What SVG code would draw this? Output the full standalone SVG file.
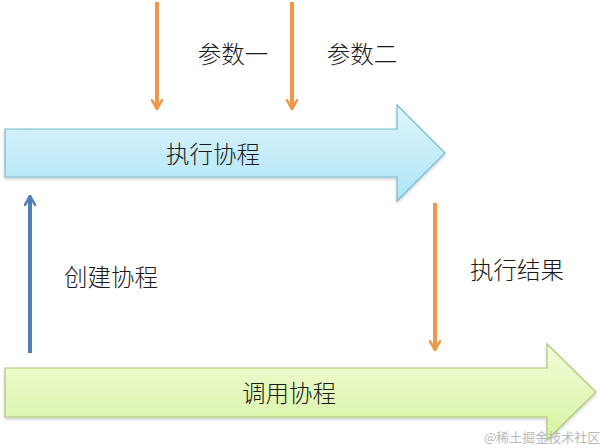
<svg xmlns="http://www.w3.org/2000/svg" width="600" height="448" viewBox="0 0 600 448">
<defs>
<linearGradient id="gBlue" x1="0" y1="0" x2="0" y2="1">
<stop offset="0" stop-color="#dff5fc"/>
<stop offset="1" stop-color="#aee5f6"/>
</linearGradient>
<linearGradient id="gGreen" x1="0" y1="0" x2="0" y2="1">
<stop offset="0" stop-color="#f2fcd8"/>
<stop offset="1" stop-color="#d7f3a2"/>
</linearGradient>
<marker id="hOrange" viewBox="0 0 10 10" refX="8" refY="5" markerWidth="3.2" markerHeight="3.2" orient="auto" markerUnits="strokeWidth">
<path d="M1,1 L8,5 L1,9" fill="none" stroke="#f0964a" stroke-width="2" stroke-linecap="round" stroke-linejoin="round"/>
</marker>
<marker id="hBlue" viewBox="0 0 10 10" refX="8" refY="5" markerWidth="3.2" markerHeight="3.2" orient="auto" markerUnits="strokeWidth">
<path d="M1,1 L8,5 L1,9" fill="none" stroke="#4f7fbb" stroke-width="2" stroke-linecap="round" stroke-linejoin="round"/>
</marker>
<filter id="sh" x="-5%" y="-10%" width="110%" height="130%">
<feDropShadow dx="0" dy="2" stdDeviation="1.5" flood-color="#000" flood-opacity="0.18"/>
</filter>
</defs>
<style>
.t{font-family:"Noto Sans CJK SC","Noto Sans CJK JP",sans-serif;font-size:23.5px;font-weight:300;fill:#1a1a1a;text-anchor:middle;dominant-baseline:central}
.o{stroke:#f0964a;stroke-width:4;fill:none;marker-end:url(#hOrange)}
.b{stroke:#4f7fbb;stroke-width:4;fill:none;marker-end:url(#hBlue)}
.wm{font-family:"Noto Sans CJK SC",sans-serif;font-size:13px;fill:#b8b8b8}
</style>
<rect width="600" height="448" fill="#ffffff"/>
<g id="exec">
<path d="M5,129 L397,129 L397,105 L445,153 L397,201 L397,177 L5,177 Z" fill="url(#gBlue)" stroke="#74b9cc" stroke-width="1.2" filter="url(#sh)"/>
<text class="t" x="213" y="153">执行协程</text>
</g>
<g id="call">
<path d="M5,368 L547,368 L547,344 L596,392 L547,440 L547,417 L5,417 Z" fill="url(#gGreen)" stroke="#a9c873" stroke-width="1.2" filter="url(#sh)"/>
<text class="t" x="289" y="392">调用协程</text>
</g>
<g id="connectors">
<line class="o" x1="157" y1="2" x2="157" y2="109"/>
<line class="o" x1="292" y1="2" x2="292" y2="109"/>
<line class="b" x1="30" y1="353" x2="30" y2="196"/>
<line class="o" x1="435" y1="203" x2="435" y2="350"/>
</g>
<g id="labels">
<text class="t" x="233" y="53">参数一</text>
<text class="t" x="362" y="53">参数二</text>
<text class="t" x="111" y="276">创建协程</text>
<text class="t" x="517" y="269">执行结果</text>
</g>
<text class="wm" x="484" y="442">@稀土掘金技术社区</text>
</svg>
